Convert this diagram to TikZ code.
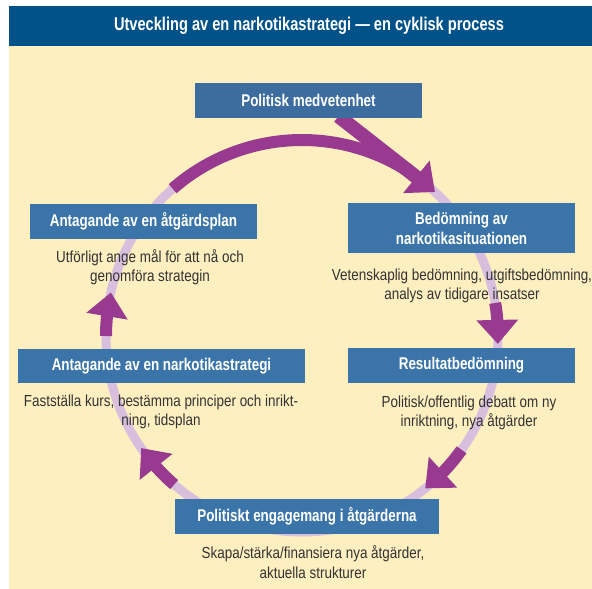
\documentclass[tikz,border=0pt]{standalone}
\usepackage{fontspec}
\setmainfont{Liberation Sans}[FakeStretch=0.84, BoldFeatures={FakeStretch=0.79}]
\usetikzlibrary{calc}
\definecolor{titleblue}{HTML}{02528A}
\definecolor{boxblue}{HTML}{3A74A8}
\definecolor{boxblueb}{HTML}{3D6D9F}
\definecolor{bgyellow}{HTML}{FDEFC0}
\definecolor{ringpurple}{HTML}{D8BFDD}
\definecolor{darkpurple}{HTML}{993A91}
\definecolor{desctext}{HTML}{333333}
\tikzset{
  titletext/.style={text=white, font=\fontsize{18.5}{21}\selectfont\bfseries},
  stagebox/.style={fill=boxblue, text=white, align=center, inner sep=0pt,
    font=\fontsize{17}{20}\selectfont\bfseries},
  desc/.style={text=desctext, align=center, inner sep=0pt,
    font=\fontsize{16}{19.5}\selectfont},
  ring/.style={draw=ringpurple, line width=9pt},
  darkarc/.style={draw=darkpurple, line width=12pt},
  headfill/.style={fill=darkpurple},
}
\begin{document}
\begin{tikzpicture}[x=1pt,y=-1pt]
\useasboundingbox (0,0) rectangle (592,589);
\fill[bgyellow] (9,46) rectangle (592,589);
\fill[titleblue] (9,6) rectangle (592,46);
\node[titletext] (title) at (309,26) {Utveckling av en narkotikastrategi — en cyklisk process};

\coordinate (C) at (302,336);
\draw[ring] (C) circle[radius=196];

\foreach \s/\t/\n in {228.7/312.7/1, 350.3/362.3/2, 35.5/51/3, 130.7/145.1/4, 180/192.8/5}{
  \pgfmathsetmacro\b{\t-7}
  \pgfmathsetmacro\be{\t-6.6}
  \draw[darkarc] ($(C)+(\s:196)$) arc[start angle=\s, end angle=\be, radius=196];
  \coordinate (tip\n) at ($(C)+(\t:196)$);
  \coordinate (base\n) at ($(C)+(\b:196)$);
  \fill[headfill] (tip\n) -- ($(base\n)!21pt!90:(tip\n)$) -- ($(base\n)!21pt!-90:(tip\n)$) -- cycle;
}

\node[stagebox, fill=boxblueb, minimum width=227pt, minimum height=35pt] (pm) at (308.5,100.5) {Politisk medvetenhet};
\coordinate (pmout) at ($(pm.south)+(30,-2)$);
\draw[darkpurple, line width=14pt] (pmout) -- ($(base1)!0.5!(tip1)$);
\node[stagebox, fill=boxblueb, minimum width=227pt, minimum height=35pt] at (308.5,100.5) {Politisk medvetenhet};

\node[stagebox, minimum width=227pt, minimum height=50pt] (bed) at (461.5,228) {Bedömning av\\narkotikasituationen};
\node[stagebox, minimum width=227pt, minimum height=35pt] (res) at (461.5,365.5) {Resultatbedömning};
\node[stagebox, minimum width=227pt, minimum height=35pt] (atg) at (143.5,221.5) {Antagande av en åtgärdsplan};
\node[stagebox, minimum width=287pt, minimum height=34pt] (nar) at (161.5,366) {Antagande av en narkotikastrategi};
\node[stagebox, minimum width=264pt, minimum height=35pt] (eng) at (307,516.5) {Politiskt engagemang i åtgärderna};

\node[desc] (atgd) at (150,267) {Utförligt ange mål för att nå och\\genomföra strategin};
\node[desc] (nard) at (161,412) {Fastställa kurs, bestämma principer och inrikt-\\ning, tidsplan};
\node[desc] (bedd) at (462,286) {Vetenskaplig bedömning, utgiftsbedömning,\\analys av tidigare insatser};
\node[desc] (resd) at (469,413) {Politisk/offentlig debatt om ny\\inriktning, nya åtgärder};
\node[desc] (engd) at (313,562) {Skapa/stärka/finansiera nya åtgärder,\\aktuella strukturer};
\end{tikzpicture}
\end{document}
